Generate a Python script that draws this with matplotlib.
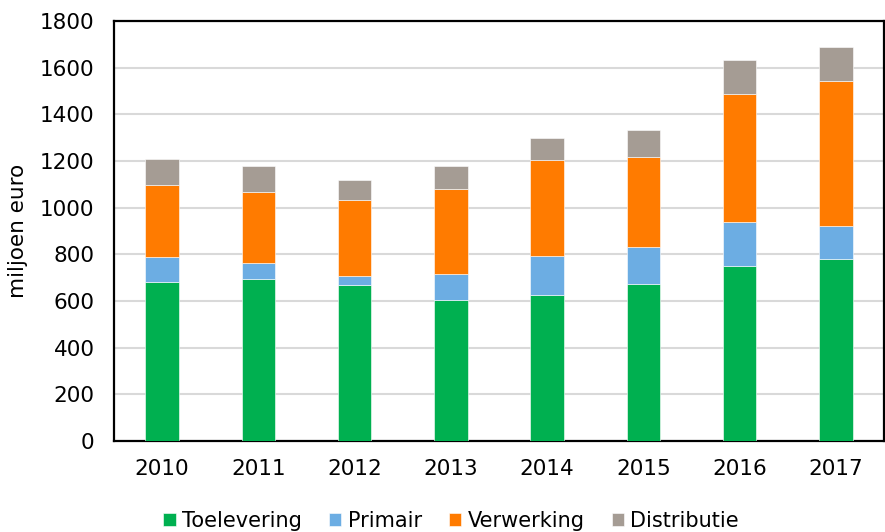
import matplotlib
matplotlib.use("Agg")
import matplotlib.pyplot as plt
import numpy as np

# waarden (miljoen euro)
years = ["2010", "2011", "2012", "2013", "2014", "2015", "2016", "2017"]
toelevering = [680, 694, 667, 603, 624, 675, 748, 780]
primair = [108, 71, 41, 112, 170, 156, 190, 143]
verwerking = [311, 301, 327, 365, 409, 385, 549, 618]
distributie = [111, 113, 84, 99, 97, 116, 145, 148]

series = [
    ("Toelevering", toelevering, "#00B050"),
    ("Primair", primair, "#6CADE3"),
    ("Verwerking", verwerking, "#FF7B00"),
    ("Distributie", distributie, "#A59C94"),
]

plt.rcParams["font.family"] = ["DejaVu Sans"]
FS = 15.5

fig = plt.figure(figsize=(8.85, 5.32), dpi=100)
ax = fig.add_axes([114 / 885, 1 - 441 / 532, 770 / 885, 420 / 532])

x = np.arange(len(years))
bottom = np.zeros(len(years))
for name, vals, color in series:
    ax.bar(x, vals, width=0.35, bottom=bottom, color=color, label=name,
           edgecolor="white", linewidth=0.4, zorder=3)
    bottom += np.array(vals)

ax.set_xlim(-0.5, 7.5)
ax.set_ylim(0, 1800)
ax.set_yticks(np.arange(0, 1801, 200))
ax.set_xticks(x)
ax.set_xticklabels(years)
ax.tick_params(axis="both", labelsize=FS, length=0)
ax.tick_params(axis="y", pad=14)
ax.tick_params(axis="x", pad=13)
ax.yaxis.grid(True, color="#D9D9D9", linewidth=1.5, zorder=0)
ax.set_axisbelow(True)
for s in ax.spines.values():
    s.set_linewidth(1.6)
    s.set_color("black")
ax.set_ylabel("miljoen euro", fontsize=FS)
ax.yaxis.set_label_coords(-86 / 770, 0.5)

fig.legend(*ax.get_legend_handles_labels(), loc="center",
           bbox_to_anchor=(451 / 885, 1 - 521 / 532), ncol=4,
           frameon=False, fontsize=15, handlelength=0.6, handleheight=0.6,
           handletextpad=0.3, columnspacing=1.3, borderpad=0)

fig.savefig("out.png", dpi=100)
